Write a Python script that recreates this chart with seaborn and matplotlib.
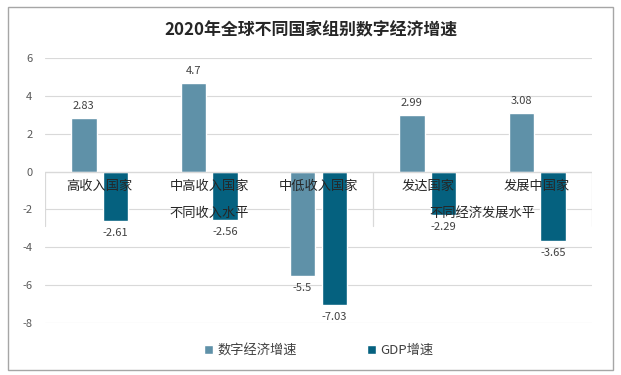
import numpy as np
import pandas as pd
import matplotlib.pyplot as plt
import seaborn as sns
from matplotlib.patches import Rectangle

categories = ['高收入国家', '中高收入国家', '中低收入国家', '发达国家', '发展中国家']
digital_growth = [2.83, 4.7, -5.5, 2.99, 3.08]
gdp_growth = [-2.61, -2.56, -7.03, -2.29, -3.65]
series_names = ['数字经济增速', 'GDP增速']
groups = ['不同收入水平', '不同经济发展水平']
y_ticks = [6, 4, 2, 0, -2, -4, -6, -8]

df = pd.DataFrame({
    'category': categories * 2,
    'value': digital_growth + gdp_growth,
    'series': [series_names[0]] * 5 + [series_names[1]] * 5,
})

sns.set_theme(style='white')
plt.rcParams['font.family'] = ['Noto Sans CJK SC', 'DejaVu Sans']
plt.rcParams['axes.unicode_minus'] = False

fig = plt.figure(figsize=(6.21, 3.75), dpi=100)
ax = fig.add_axes([0.0725, 0.1387, 0.8805, 0.7063])

palette = {series_names[0]: '#5f91a8', series_names[1]: '#05617f'}
sns.barplot(data=df, x='category', y='value', hue='series', order=categories,
            hue_order=series_names, palette=palette, width=0.58, gap=0.2,
            saturation=1, ax=ax, legend=True)

for cont in ax.containers:
    ax.bar_label(cont, labels=[f'{v:g}' for v in cont.datavalues],
                 padding=5, fontsize=8, color='#404040')

ax.set_ylim(-8, 6)
ax.set_xlim(-0.5, 4.5)
ax.set_yticks(y_ticks)
ax.set_yticklabels([str(t) for t in y_ticks], fontsize=8, color='#595959')
ax.tick_params(axis='y', length=0, pad=9)
ax.set_xticks([])
ax.set_xlabel('')
ax.set_ylabel('')
for s in ax.spines.values():
    s.set_visible(False)
ax.grid(axis='y', color='#d9d9d9', linewidth=0.8)
ax.set_axisbelow(True)

# category axis drawn at zero
ax.axhline(0, color='#d9d9d9', linewidth=0.9, zorder=1)
for xv in [-0.5, 2.5, 4.5]:
    ax.plot([xv, xv], [0, -2.85], color='#d9d9d9', linewidth=0.9, zorder=1)
for i, c in enumerate(categories):
    ax.text(i, -0.8, c, ha='center', va='center', fontsize=9.5, color='#262626', zorder=5)
ax.text(1, -2.2, groups[0], ha='center', va='center', fontsize=9.5, color='#262626', zorder=5)
ax.text(3.5, -2.2, groups[1], ha='center', va='center', fontsize=9.5, color='#262626', zorder=5)

fig.text(0.5, 0.92, '2020年全球不同国家组别数字经济增速', ha='center', va='center',
         fontsize=12.2, fontweight='bold', color='#262626')

handles, labels = ax.get_legend_handles_labels()
ax.legend(handles, labels, loc='center', bbox_to_anchor=(0.513, 0.065),
          bbox_transform=fig.transFigure, ncol=2, frameon=False,
          fontsize=9.5, handlelength=0.7, handleheight=0.7,
          handletextpad=0.3, columnspacing=5.3, labelcolor='#404040')

fig.patches.append(Rectangle((7.5 / 621, 5 / 375), 605 / 621, 363 / 375,
                             transform=fig.transFigure, fill=False,
                             edgecolor='#a6a6a6', linewidth=1))

fig.savefig('out.png', dpi=100)
